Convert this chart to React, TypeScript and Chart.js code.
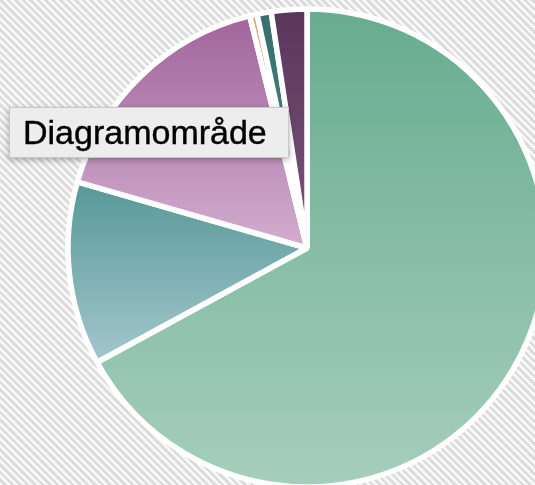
import React, { useEffect, useRef } from "react";
import { Chart, registerables } from "chart.js";

Chart.register(...registerables);

// ---- data ----
const labels = ["Serie 1", "Serie 2", "Serie 3", "Serie 4", "Serie 5", "Serie 6"];
const values = [67.1, 12.4, 16.7, 0.5, 0.95, 2.4];
const topColors = ["#67ac8f", "#589898", "#a1659b", "#e3a070", "#376f6e", "#5a365d"];
const bottomColors = ["#a6cebd", "#a2c7cc", "#d2adcf", "#efc09a", "#4a8584", "#7c5479"];
const tooltipLabel = "Diagramområde";

const gradientPlugin = {
  id: "sliceGradient",
  beforeDatasetsDraw(chart: any) {
    const ctx = chart.ctx;
    const meta = chart.getDatasetMeta(0);
    meta.data.forEach((arc: any, i: number) => {
      const { y, startAngle, endAngle, outerRadius } = arc.getProps(
        ["x", "y", "startAngle", "endAngle", "outerRadius"],
        true
      );
      const ys = [y, y + outerRadius * Math.sin(startAngle), y + outerRadius * Math.sin(endAngle)];
      for (let k = -2; k <= 2; k++) {
        for (const a of [Math.PI / 2, -Math.PI / 2]) {
          const ang = a + 2 * Math.PI * k;
          if (ang >= startAngle && ang <= endAngle) ys.push(y + outerRadius * Math.sin(ang));
        }
      }
      const y0 = Math.min(...ys);
      const y1 = Math.max(...ys);
      const g = ctx.createLinearGradient(0, y0, 0, y1 > y0 ? y1 : y0 + 1);
      g.addColorStop(0, topColors[i]);
      g.addColorStop(1, bottomColors[i]);
      arc.options = { ...arc.options, backgroundColor: g };
    });
  },
};

export default function App() {
  const canvasRef = useRef<HTMLCanvasElement | null>(null);

  useEffect(() => {
    document.body.style.margin = "0";
    document.body.style.overflow = "hidden";
    const canvas = canvasRef.current;
    if (!canvas) return;
    const chart = new Chart(canvas, {
      type: "pie",
      data: {
        labels,
        datasets: [
          {
            data: values,
            backgroundColor: topColors,
            borderColor: "#ffffff",
            borderWidth: 5.5,
            radius: 239,
          } as any,
        ],
      },
      options: {
        responsive: false,
        animation: false,
        events: [],
        layout: { padding: 0 },
        plugins: {
          legend: { display: false },
          tooltip: { enabled: false },
        },
      } as any,
      plugins: [gradientPlugin],
    });
    return () => chart.destroy();
  }, []);

  return (
    <div
      style={{
        position: "fixed",
        left: 0,
        top: 0,
        width: 535,
        height: 485,
        overflow: "hidden",
        background:
          "repeating-linear-gradient(45deg, #f7f7f7 0px, #f7f7f7 2.8px, #dbdbdb 2.8px, #dbdbdb 5.3px)",
      }}
    >
      <canvas
        ref={canvasRef}
        width={614}
        height={496}
        style={{ position: "absolute", left: 0, top: 0, width: 614, height: 496 }}
      />
      <div
        style={{
          position: "absolute",
          left: 9,
          top: 107,
          width: 280,
          height: 51,
          boxSizing: "border-box",
          background: "#ededed",
          border: "1px solid #c9c9c9",
          boxShadow: "0 2px 6px rgba(0,0,0,0.3)",
          display: "flex",
          alignItems: "center",
          paddingLeft: 13,
          fontFamily: "'Liberation Sans', Arial, sans-serif",
          fontSize: 34,
          color: "#000000",
          WebkitTextStroke: "0.4px #000000",
          whiteSpace: "nowrap",
        }}
      >
        {tooltipLabel}
      </div>
    </div>
  );
}
